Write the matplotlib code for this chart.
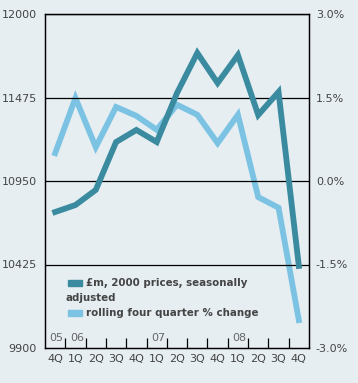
import matplotlib
matplotlib.use("Agg")
import matplotlib.pyplot as plt
from matplotlib.patches import Rectangle
import numpy as np

quarters = ["4Q", "1Q", "2Q", "3Q", "4Q", "1Q", "2Q", "3Q", "4Q", "1Q", "2Q", "3Q", "4Q"]
years = {0: "05", 1: "06", 5: "07", 9: "08"}

gdp = [10755, 10799, 10894, 11195, 11271, 11195, 11503, 11755,
       11566, 11742, 11365, 11510, 10416]
growth = [0.50, 1.49, 0.61, 1.33, 1.17, 0.92, 1.37, 1.19,
          0.68, 1.19, -0.29, -0.48, -2.50]

left_ticks = [9900, 10425, 10950, 11475, 12000]
right_ticks = [-3.0, -1.5, 0.0, 1.5, 3.0]

bg = "#e6eef2"
dark = "#3a8ba0"
light = "#7cc3e3"
txt = "#444444"

fig = plt.figure(figsize=(3.58, 3.83), dpi=100, facecolor=bg)
ax = fig.add_axes([45/358, 1 - 348/383, 264/358, 334/383], facecolor=bg)
ax2 = ax.twinx()

x = np.arange(len(quarters))
ax.plot(x, gdp, color=dark, lw=4.2, solid_joinstyle="miter", zorder=3)
ax2.plot(x, growth, color=light, lw=4.2, solid_joinstyle="miter", zorder=2)
ax.set_zorder(ax2.get_zorder() + 1)
ax.patch.set_visible(False)
ax2.patch.set_facecolor(bg)

ax.set_xlim(-0.5, len(quarters) - 0.5)
ax.set_ylim(9900, 12000)
ax2.set_ylim(-3.0, 3.0)

for v in left_ticks[1:]:
    ax.axhline(v, color="black", lw=0.9, zorder=1)

ax.set_yticks(left_ticks)
ax.set_yticklabels([str(v) for v in left_ticks])
ax2.set_yticks(right_ticks)
ax2.set_yticklabels(["%.1f%%" % v for v in right_ticks])
ax.tick_params(axis="y", length=0, pad=6, labelsize=8, labelcolor=txt)
ax2.tick_params(axis="y", length=0, pad=5, labelsize=8, labelcolor=txt)

ax.set_xticks(x)
ax.set_xticklabels(quarters)
ax.tick_params(axis="x", length=0, pad=4, labelsize=8, labelcolor=txt)
ax.set_xticks(x[:-1] + 0.5, minor=True)
ax.tick_params(axis="x", which="minor", direction="in", length=7, width=0.9)

for i, lab in years.items():
    ax.text(i + 0.42, 9930, lab, ha="right", va="bottom", fontsize=8, color="#666666")

for a in (ax, ax2):
    for s in a.spines.values():
        s.set_color("black")
        s.set_linewidth(0.9)

# legend drawn by hand so the long label wraps under its key
ax.add_patch(Rectangle((0.087, 0.187), 0.053, 0.016, transform=ax.transAxes,
                       color=dark, clip_on=False, zorder=5))
ax.add_patch(Rectangle((0.087, 0.097), 0.053, 0.016, transform=ax.transAxes,
                       color=light, clip_on=False, zorder=5))
ax.text(0.155, 0.195, "£m, 2000 prices, seasonally", transform=ax.transAxes,
        ha="left", va="center", fontsize=7.4, fontweight="bold", color=txt)
ax.text(0.078, 0.150, "adjusted", transform=ax.transAxes,
        ha="left", va="center", fontsize=7.4, fontweight="bold", color=txt)
ax.text(0.155, 0.105, "rolling four quarter % change", transform=ax.transAxes,
        ha="left", va="center", fontsize=7.4, fontweight="bold", color=txt)

fig.savefig("out.png", dpi=100, facecolor=bg)
